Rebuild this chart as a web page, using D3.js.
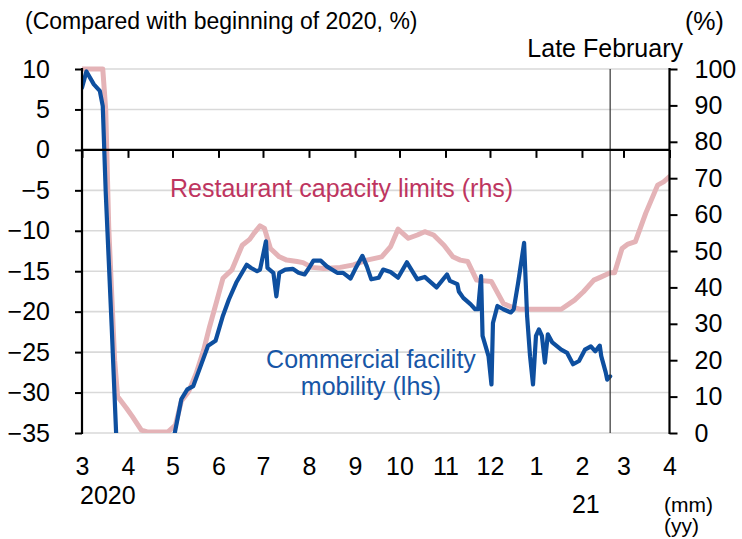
<!DOCTYPE html>
<html>
<head>
<meta charset="utf-8">
<script src="https://cdn.jsdelivr.net/npm/d3@7"></script>
<style>
  html, body { margin: 0; padding: 0; background: #fff; }
  svg { display: block; font-family: "Liberation Sans", Arial, sans-serif; }
</style>
</head>
<body>
<svg id="chart" width="742" height="539"></svg>
<script>
// ---------- data ----------
const mobilityDates = [
  "2020-03-01","2020-03-04","2020-03-09","2020-03-13","2020-03-15","2020-03-17","2020-03-21","2020-03-24",
  "2020-03-27","2020-04-03","2020-04-12","2020-04-20","2020-04-27","2020-05-02","2020-05-07","2020-05-11",
  "2020-05-15","2020-05-20","2020-05-25","2020-05-30","2020-06-04","2020-06-08","2020-06-13","2020-06-20",
  "2020-06-23","2020-06-27","2020-06-29","2020-07-03","2020-07-04","2020-07-08","2020-07-10","2020-07-12",
  "2020-07-16","2020-07-21","2020-07-25","2020-07-29","2020-08-01","2020-08-04","2020-08-09","2020-08-13",
  "2020-08-20","2020-08-24","2020-08-29","2020-09-01","2020-09-06","2020-09-09","2020-09-12","2020-09-17",
  "2020-09-20","2020-09-25","2020-09-30","2020-10-06","2020-10-13","2020-10-18","2020-10-26","2020-11-02",
  "2020-11-04","2020-11-09","2020-11-10","2020-11-13","2020-11-18","2020-11-21","2020-11-23","2020-11-25",
  "2020-11-26","2020-11-30","2020-12-02","2020-12-03","2020-12-06","2020-12-10","2020-12-15","2020-12-17",
  "2020-12-20","2020-12-24","2020-12-26","2020-12-28","2020-12-30","2021-01-01","2021-01-03","2021-01-05",
  "2021-01-07","2021-01-09","2021-01-12","2021-01-18","2021-01-22","2021-01-26","2021-01-30","2021-02-03",
  "2021-02-07","2021-02-10","2021-02-13","2021-02-14","2021-02-17","2021-02-18","2021-02-20"
];
const mobilityValues = [
  7.7, 9.7, 8.1, 7.3, 5.4, -5.3, -21.8, -35,
  -44, -49, -51, -49, -42, -35.5, -30.8, -29.6,
  -29.2, -26.7, -24.2, -23.6, -20.5, -18.5, -16.4, -14.2,
  -14.6, -15.0, -14.8, -11.3, -14.6, -15.2, -18.1, -15.2,
  -14.8, -14.7, -15.2, -15.4, -14.6, -13.7, -13.7, -14.4,
  -15.2, -15.2, -15.9, -14.8, -13.1, -14.4, -16.0, -15.8,
  -14.8, -15.1, -15.8, -13.9, -16.0, -15.7, -17.0, -15.4,
  -16.2, -16.6, -17.5, -18.3, -19.1, -19.7, -19.7, -15.6,
  -23.0, -25.5, -29.0, -21.4, -19.3, -19.7, -20.1, -19.7,
  -16.4, -11.5, -20.5, -25.5, -29.0, -23.0, -22.2, -23.0,
  -26.3, -22.8, -23.8, -24.7, -25.1, -26.5, -26.1, -24.7,
  -24.3, -24.9, -24.2, -25.5, -27.5, -28.4, -28.0
];

const capacityDates = [
  "2020-03-01","2020-03-15","2020-03-17","2020-03-19","2020-03-23","2020-03-25","2020-03-31","2020-04-04",
  "2020-04-10","2020-04-14","2020-04-28","2020-05-03","2020-05-07","2020-05-12","2020-05-17","2020-05-22",
  "2020-05-26","2020-05-31","2020-06-04","2020-06-10","2020-06-17","2020-06-22","2020-06-25","2020-06-29",
  "2020-07-02","2020-07-06","2020-07-12","2020-07-17","2020-07-24","2020-07-28","2020-08-03","2020-08-11",
  "2020-08-22","2020-08-31","2020-09-09","2020-09-19","2020-09-25","2020-09-30","2020-10-07","2020-10-13",
  "2020-10-18","2020-10-24","2020-10-31","2020-11-06","2020-11-11","2020-11-16","2020-11-22","2020-12-02",
  "2020-12-10","2020-12-15","2020-12-21","2021-01-18","2021-01-27","2021-02-02","2021-02-09","2021-02-14",
  "2021-02-20","2021-02-23","2021-02-28","2021-03-04","2021-03-09","2021-03-16","2021-03-24","2021-03-28",
  "2021-04-01"
];
const capacityValues = [
  100, 100, 88.7, 56.7, 20, 10, 6.8, 4.5,
  0.8, 0.3, 0.3, 2.2, 8.8, 11.5, 16.4, 22.8,
  29.2, 36.5, 42.5, 44.8, 51.6, 53.2, 54.9, 56.9,
  56.2, 50.7, 48.4, 47.5, 47.1, 46.8, 45.5, 45.2,
  45.5, 46.2, 47.5, 48.4, 51.2, 56.0, 53.5, 54.4,
  55.3, 54.4, 51.6, 48.4, 47.5, 47.1, 42.0, 41.6,
  35.6, 34.7, 34.0, 34.0, 36.5, 38.8, 42.0, 42.9,
  44.0, 44.0, 50.7, 51.9, 52.6, 60.4, 68.1, 69.0,
  70.4
];

const leftTicks = [-35, -30, -25, -20, -15, -10, -5, 0, 5, 10];
const rightTicks = [0, 10, 20, 30, 40, 50, 60, 70, 80, 90, 100];
const monthTickDates = ["2020-03-01","2020-04-01","2020-05-01","2020-06-01","2020-07-01","2020-08-01","2020-09-01",
  "2020-10-01","2020-11-01","2020-12-01","2021-01-01","2021-02-01","2021-03-01","2021-04-01"];
const yearLabels = ["2020", "21"];
const markerDate = "2021-02-20";

const titleText = "(Compared with beginning of 2020, %)";
const rightUnit = "(%)";
const markerLabel = "Late February";
const capacityLabel = "Restaurant capacity limits (rhs)";
const mobilityLabel = ["Commercial facility", "mobility (lhs)"];
const axisUnits = ["(mm)", "(yy)"];

// ---------- setup ----------
const parse = d3.timeParse("%Y-%m-%d");
const mobility = mobilityDates.map((d, i) => ({ date: parse(d), value: mobilityValues[i] }));
const capacity = capacityDates.map((d, i) => ({ date: parse(d), value: capacityValues[i] }));
const months = monthTickDates.map(parse);

const svg = d3.select("#chart");
const L = 82, R = 669.5, T = 69, B = 433;

const x = d3.scaleTime().domain([parse("2020-03-01"), parse("2021-04-01")]).range([L, R]);
const yL = d3.scaleLinear().domain([-35, 10]).range([B, T]);
const yR = d3.scaleLinear().domain([0, 100]).range([B, T]);

const FONT = 25;
const BLUE_LINE = "#0e4f9f";
const PINK_LINE = "#e4b3b7";
const BLUE_TEXT = "#1756a6";
const PINK_TEXT = "#be3560";

// gridlines
svg.append("g").selectAll("line").data(leftTicks.filter(v => v !== 0)).join("line")
  .attr("x1", L).attr("x2", R)
  .attr("y1", d => yL(d)).attr("y2", d => yL(d))
  .attr("stroke", "#d9d9d9").attr("stroke-width", 1.6);

// clip
svg.append("clipPath").attr("id", "plot").append("rect")
  .attr("x", L).attr("y", T - 3).attr("width", R - L).attr("height", B - T + 3);

// lines
const lineR = d3.line().x(d => x(d.date)).y(d => yR(d.value));
const lineL = d3.line().x(d => x(d.date)).y(d => yL(d.value));

svg.append("path").datum(capacity)
  .attr("clip-path", "url(#plot)")
  .attr("d", lineR).attr("fill", "none")
  .attr("stroke", PINK_LINE).attr("stroke-width", 5)
  .attr("stroke-linejoin", "round").attr("stroke-linecap", "round");

svg.append("path").datum(mobility)
  .attr("clip-path", "url(#plot)")
  .attr("d", lineL).attr("fill", "none")
  .attr("stroke", BLUE_LINE).attr("stroke-width", 4.2)
  .attr("stroke-linejoin", "round").attr("stroke-linecap", "round");

// marker line
svg.append("line")
  .attr("x1", x(parse(markerDate))).attr("x2", x(parse(markerDate)))
  .attr("y1", T).attr("y2", B)
  .attr("stroke", "#333").attr("stroke-width", 1.2);

// zero line with month ticks
svg.append("line").attr("x1", L).attr("x2", R).attr("y1", yL(0)).attr("y2", yL(0))
  .attr("stroke", "#000").attr("stroke-width", 2.2);
const xTicks = svg.append("g").attr("transform", `translate(0,${yL(0)})`)
  .call(d3.axisBottom(x).tickValues(months).tickSize(8).tickFormat(""));
xTicks.select(".domain").remove();
xTicks.selectAll("line").attr("stroke", "#000").attr("stroke-width", 2);

// month labels
const xLab = svg.append("g").attr("transform", `translate(0,${B})`)
  .call(d3.axisBottom(x).tickValues(months).tickSize(0).tickPadding(24).tickFormat(d3.timeFormat("%-m")));
xLab.select(".domain").remove();
xLab.selectAll("text").attr("font-size", FONT).attr("font-family", null).attr("fill", "#000");

// year labels
svg.append("text").attr("x", x(months[0]) - 2).attr("y", 504)
  .attr("font-size", FONT).text(yearLabels[0]);
svg.append("text").attr("x", x(months[11]) - 10).attr("y", 513)
  .attr("font-size", FONT).text(yearLabels[1]);
svg.append("text").attr("x", 664).attr("y", 512).attr("font-size", 21).text(axisUnits[0]);
svg.append("text").attr("x", 664).attr("y", 533).attr("font-size", 21).text(axisUnits[1]);

// left axis
const axL = svg.append("g").attr("transform", `translate(${L},0)`)
  .call(d3.axisLeft(yL).tickValues(leftTicks).tickSize(7).tickPadding(25));
axL.select(".domain").remove();
axL.selectAll("line").attr("stroke", "#000").attr("stroke-width", 2);
axL.selectAll("text").attr("font-size", FONT).attr("font-family", null).attr("fill", "#000");
svg.append("line").attr("x1", L).attr("x2", L).attr("y1", T - 1).attr("y2", B + 1)
  .attr("stroke", "#000").attr("stroke-width", 2.2);

// right axis
const axR = svg.append("g").attr("transform", `translate(${R},0)`)
  .call(d3.axisRight(yR).tickValues(rightTicks).tickSize(8).tickPadding(17));
axR.select(".domain").remove();
axR.selectAll("line").attr("stroke", "#000").attr("stroke-width", 2);
axR.selectAll("text").attr("font-size", FONT).attr("font-family", null).attr("fill", "#000");
svg.append("line").attr("x1", R).attr("x2", R).attr("y1", T - 1).attr("y2", B + 1)
  .attr("stroke", "#000").attr("stroke-width", 2.2);

// texts
svg.append("text").attr("x", 25).attr("y", 29).attr("font-size", 23).text(titleText);
svg.append("text").attr("x", 685).attr("y", 30).attr("font-size", FONT).text(rightUnit);
svg.append("text").attr("x", 683).attr("y", 57).attr("text-anchor", "end")
  .attr("font-size", FONT).text(markerLabel);
svg.append("text").attr("x", 170).attr("y", 197).attr("font-size", FONT)
  .attr("fill", PINK_TEXT).text(capacityLabel);
svg.append("text").attr("x", 371).attr("y", 368).attr("text-anchor", "middle")
  .attr("font-size", FONT).attr("fill", BLUE_TEXT).text(mobilityLabel[0]);
svg.append("text").attr("x", 371).attr("y", 395).attr("text-anchor", "middle")
  .attr("font-size", FONT).attr("fill", BLUE_TEXT).text(mobilityLabel[1]);
</script>
</body>
</html>
